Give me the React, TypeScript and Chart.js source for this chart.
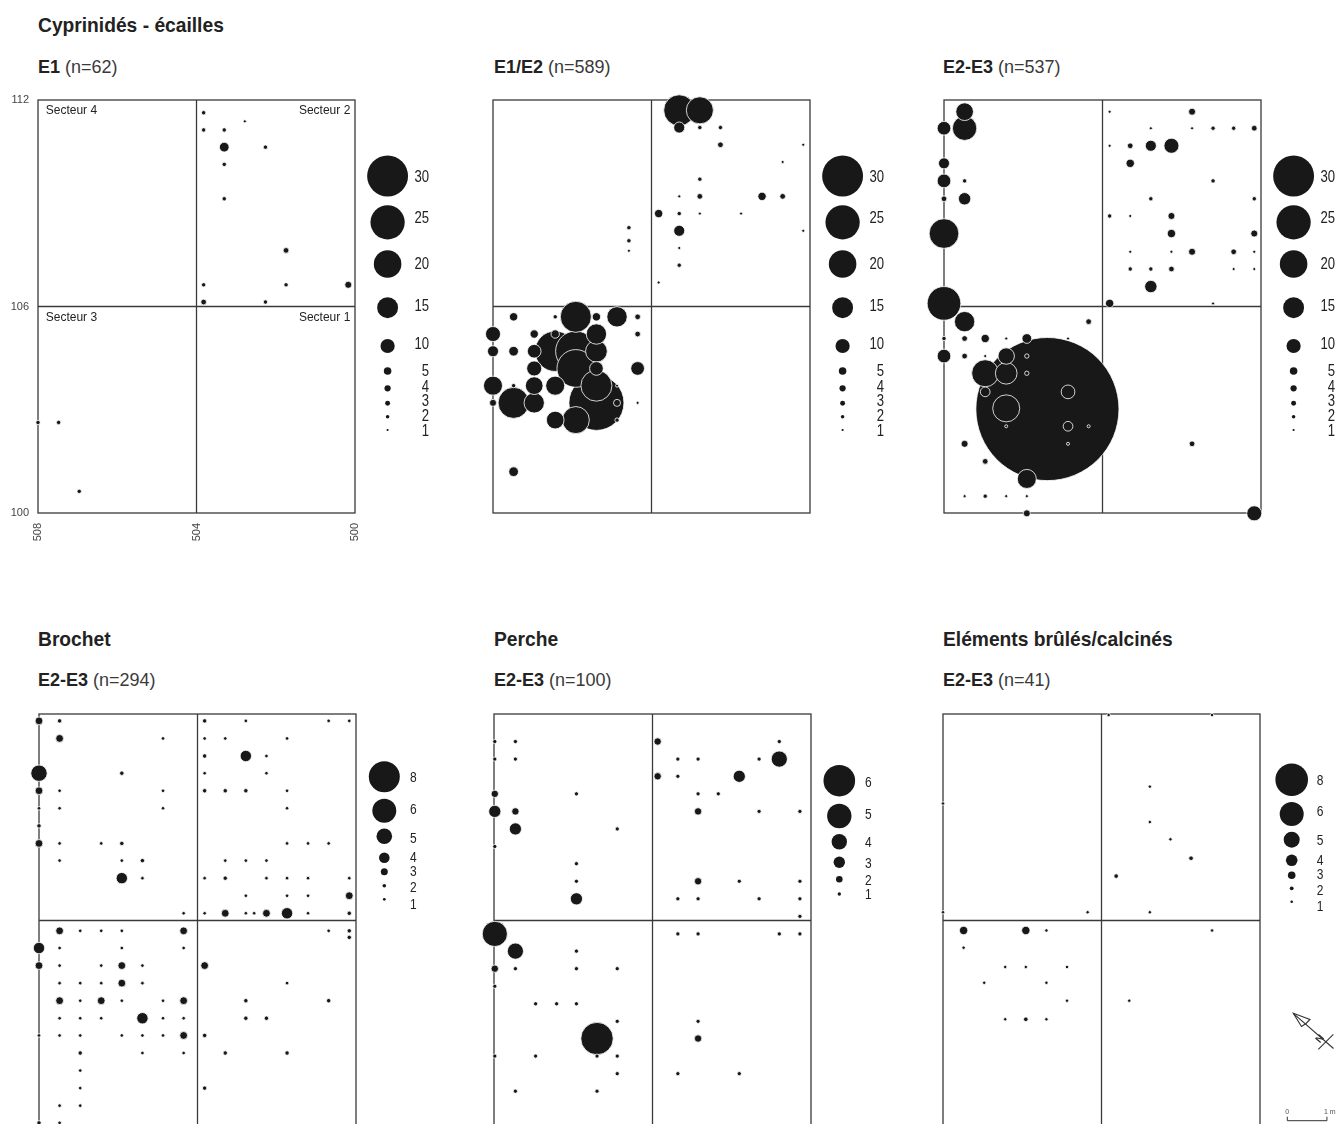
import React, { useEffect, useRef } from "react";
import { Chart, registerables } from "chart.js";

Chart.register(...registerables);

// [x (m), y (m), count]
type Pt = [number, number, number];

// Excavation grid (metres) and quadrant dividers
const X_MIN = 500;
const X_MAX = 508;
const Y_MIN = 100;
const Y_MAX = 112;
const X_TICKS = [508, 504, 500];
const Y_TICKS = [112, 106, 100];
const DIVIDER_X = 504;
const DIVIDER_Y = 106;
const SECTOR_NAMES = ["Secteur 4", "Secteur 2", "Secteur 3", "Secteur 1"];

// Size-legend classes
const CYP_LEGEND = [30, 25, 20, 15, 10, 5, 4, 3, 2, 1];
const BROCHET_LEGEND = [8, 6, 5, 4, 3, 2, 1];
const PERCHE_LEGEND = [6, 5, 4, 3, 2, 1];
const ELEMENTS_LEGEND = [8, 6, 5, 4, 3, 2, 1];

// Cyprinidés - écailles, E1
const CYP_E1: Pt[] = [
  [503.82, 111.63, 2], [502.78, 111.38, 1], [503.82, 111.13, 2], [503.3, 111.13, 2],
  [503.3, 110.63, 6], [502.26, 110.63, 2], [503.3, 110.13, 2], [503.3, 109.13, 2],
  [501.74, 107.63, 3], [503.82, 106.63, 2], [501.74, 106.63, 2], [500.17, 106.63, 4],
  [503.82, 106.13, 3], [502.26, 106.13, 2], [508.0, 102.63, 2], [507.48, 102.63, 2],
  [506.96, 100.63, 2],
];

// Cyprinidés - écailles, E1/E2
const CYP_E1E2: Pt[] = [
  [503.3, 111.7, 22], [502.78, 111.7, 19], [503.3, 111.2, 7], [502.78, 111.2, 2],
  [502.26, 111.2, 2], [502.26, 110.7, 3], [500.17, 110.7, 1], [500.69, 110.2, 1],
  [502.78, 109.7, 2], [503.3, 109.2, 1], [502.78, 109.2, 3], [501.21, 109.2, 5],
  [500.69, 109.2, 3], [503.82, 108.7, 5], [503.3, 108.7, 2], [502.78, 108.7, 1],
  [501.74, 108.7, 1], [503.3, 108.2, 7], [500.17, 108.2, 1], [503.3, 107.7, 1],
  [503.3, 107.2, 2], [503.82, 106.7, 1],
  [504.57, 108.29, 2], [504.57, 107.91, 2], [504.57, 107.62, 1],
  [507.48, 105.7, 5], [506.43, 105.7, 2], [505.91, 105.7, 22], [505.39, 105.7, 5],
  [504.87, 105.7, 14], [504.35, 105.7, 3],
  [508.0, 105.2, 10], [506.96, 105.2, 5], [506.43, 105.2, 5], [505.39, 105.2, 14], [504.35, 105.2, 3],
  [508.0, 104.7, 7], [507.48, 104.7, 6], [506.96, 104.7, 9], [506.43, 104.7, 29],
  [505.91, 104.7, 29], [505.39, 104.7, 15],
  [506.96, 104.2, 10], [505.91, 104.2, 27], [505.39, 104.2, 9], [504.35, 104.2, 9],
  [508.0, 103.7, 13], [507.48, 103.7, 2], [506.96, 103.7, 12], [506.43, 103.7, 13],
  [505.39, 103.7, 22], [504.87, 103.7, 1],
  [508.0, 103.2, 4], [507.48, 103.2, 22], [506.96, 103.2, 14], [505.39, 103.2, 40],
  [504.87, 103.2, 4], [504.35, 103.2, 1],
  [506.43, 102.7, 12], [505.91, 102.7, 19], [504.87, 102.7, 2],
  [507.48, 101.2, 6],
];

// Cyprinidés - écailles, E2-E3
const CYP_E2E3: Pt[] = [
  [507.48, 111.66, 12], [508.0, 111.18, 9], [507.48, 111.18, 17], [508.0, 110.16, 7],
  [508.0, 109.65, 9], [507.48, 109.65, 2], [508.0, 109.13, 3], [507.48, 109.13, 8],
  [508.0, 108.12, 21], [508.0, 106.09, 24], [507.48, 105.56, 14], [504.35, 105.56, 3],
  [503.82, 111.66, 1], [501.74, 111.66, 4], [502.78, 111.18, 1], [501.74, 111.18, 1],
  [501.21, 111.18, 2], [500.69, 111.18, 2], [500.17, 111.18, 3],
  [503.82, 110.67, 1], [503.3, 110.67, 3], [502.78, 110.67, 7], [502.26, 110.67, 10],
  [503.3, 110.16, 5], [501.21, 109.65, 2], [502.78, 109.13, 2], [500.17, 109.13, 2],
  [503.82, 108.63, 2], [503.3, 108.63, 1], [502.26, 108.63, 4],
  [502.26, 108.12, 5], [500.17, 108.12, 4],
  [503.3, 107.59, 1], [502.26, 107.59, 1], [501.74, 107.59, 4], [500.69, 107.59, 3], [500.17, 107.59, 1],
  [503.3, 107.09, 2], [502.78, 107.09, 2], [502.26, 107.09, 3], [500.69, 107.09, 1], [500.17, 107.09, 1],
  [502.78, 106.58, 8], [503.82, 106.09, 5], [501.21, 106.09, 1],
  [505.39, 103.02, 106],
  [508.0, 105.07, 2], [507.48, 105.07, 3], [506.96, 105.07, 5], [506.43, 105.07, 1],
  [505.91, 105.07, 6], [504.87, 105.07, 1],
  [508.0, 104.56, 9], [507.48, 104.56, 3], [506.96, 104.56, 1], [506.43, 104.56, 11], [505.91, 104.56, 2],
  [506.96, 104.06, 19], [506.43, 104.06, 15], [505.91, 104.06, 2],
  [506.96, 103.52, 6], [504.87, 103.52, 9], [506.43, 103.04, 19],
  [506.43, 102.52, 1], [504.87, 102.52, 6], [504.35, 102.52, 1],
  [507.48, 102.01, 4], [504.87, 102.01, 1], [506.96, 101.5, 3], [505.91, 100.99, 13],
  [507.48, 100.49, 1], [506.96, 100.49, 2], [506.43, 100.49, 1], [505.91, 100.49, 1],
  [505.91, 99.99, 4], [501.74, 102.01, 3], [500.17, 99.99, 10],
];

// Brochet, E2-E3
const BROCHET_E2E3: Pt[] = [
  [508.0, 111.8, 3], [507.48, 111.8, 2], [507.48, 111.29, 3], [504.87, 111.29, 1],
  [508.0, 110.28, 5], [505.91, 110.28, 2], [508.0, 109.77, 3], [507.48, 109.77, 1],
  [504.87, 109.77, 1], [508.0, 109.26, 1], [507.48, 109.26, 1], [504.87, 109.26, 1],
  [508.0, 108.75, 2], [508.0, 108.24, 3], [507.48, 108.24, 1], [506.43, 108.24, 1],
  [505.91, 108.24, 2], [507.48, 107.74, 1], [505.91, 107.74, 1], [505.39, 107.74, 2],
  [505.91, 107.23, 4], [505.39, 107.23, 1], [504.35, 106.21, 1],
  [503.82, 111.8, 2], [502.78, 111.8, 1], [500.69, 111.8, 1], [500.17, 111.8, 1],
  [503.82, 111.29, 1], [503.3, 111.29, 1], [501.74, 111.29, 1],
  [503.82, 110.78, 2], [502.78, 110.78, 4], [502.26, 110.78, 1],
  [503.82, 110.28, 1], [502.26, 110.28, 1],
  [503.82, 109.77, 2], [503.3, 109.77, 2], [502.78, 109.77, 2], [501.74, 109.77, 1],
  [501.74, 109.26, 1], [501.74, 108.24, 1], [501.21, 108.24, 1], [500.69, 108.24, 1],
  [503.3, 107.74, 1], [502.78, 107.74, 1], [502.26, 107.74, 1],
  [503.82, 107.23, 1], [503.3, 107.23, 2], [502.26, 107.23, 1], [501.74, 107.23, 1],
  [501.21, 107.23, 1], [500.17, 107.23, 1],
  [502.78, 106.72, 1], [501.74, 106.72, 1], [501.21, 106.72, 1], [500.17, 106.72, 3],
  [503.82, 106.21, 1], [503.3, 106.21, 3], [502.78, 106.21, 1], [502.57, 106.21, 1],
  [502.26, 106.21, 3], [501.74, 106.21, 4], [501.21, 106.21, 1], [500.17, 106.21, 2],
  [507.48, 105.7, 3], [506.96, 105.7, 1], [506.43, 105.7, 1], [505.91, 105.7, 1], [504.35, 105.7, 3],
  [508.0, 105.2, 4], [507.48, 105.2, 1], [505.91, 105.2, 1], [504.35, 105.2, 1],
  [508.0, 104.69, 3], [507.48, 104.69, 1], [506.43, 104.69, 1], [505.91, 104.69, 3], [505.39, 104.69, 1],
  [507.48, 104.18, 1], [506.96, 104.18, 1], [506.43, 104.18, 1], [505.91, 104.18, 3], [505.39, 104.18, 1],
  [507.48, 103.67, 3], [506.96, 103.67, 1], [506.43, 103.67, 3], [505.91, 103.67, 1],
  [504.87, 103.67, 1], [504.35, 103.67, 3],
  [507.48, 103.16, 1], [506.96, 103.16, 1], [506.43, 103.16, 1], [505.39, 103.16, 4],
  [504.87, 103.16, 1], [504.35, 103.16, 1],
  [508.0, 102.66, 1], [507.48, 102.66, 1], [506.96, 102.66, 1], [505.91, 102.66, 1],
  [505.39, 102.66, 1], [504.87, 102.66, 1], [504.35, 102.66, 3],
  [506.96, 102.15, 2], [505.39, 102.15, 1], [504.35, 102.15, 1],
  [506.96, 101.64, 1], [506.96, 101.13, 1], [507.48, 100.62, 1], [506.96, 100.62, 1],
  [508.0, 100.12, 2], [507.48, 100.12, 1],
  [500.69, 105.7, 1], [500.17, 105.7, 2], [500.17, 105.51, 2], [503.82, 104.69, 3],
  [501.74, 104.18, 1], [502.78, 103.67, 2], [500.69, 103.67, 2], [502.78, 103.16, 2],
  [502.26, 103.16, 2], [503.82, 102.66, 2], [503.3, 102.15, 2], [501.74, 102.15, 2],
  [503.82, 101.13, 2],
];

// Perche, E2-E3
const PERCHE_E2E3: Pt[] = [
  [507.98, 111.2, 1], [507.46, 111.2, 1], [507.98, 110.69, 1], [507.46, 110.69, 1],
  [507.98, 109.68, 2], [507.98, 109.17, 3], [507.46, 109.17, 2], [507.46, 108.66, 3],
  [507.98, 108.15, 1], [505.92, 109.68, 1], [504.89, 108.66, 1], [505.92, 107.65, 1],
  [505.92, 107.14, 1], [505.92, 106.63, 3],
  [503.87, 111.2, 2], [500.8, 111.2, 1], [503.36, 110.69, 1], [502.85, 110.69, 1],
  [501.31, 110.69, 1], [500.8, 110.69, 4], [503.87, 110.19, 2], [503.36, 110.19, 1],
  [501.81, 110.19, 3], [502.85, 109.68, 1], [502.34, 109.68, 1], [502.85, 109.17, 2],
  [501.31, 109.17, 1], [500.28, 109.17, 1], [502.85, 107.14, 2], [501.81, 107.14, 1],
  [500.28, 107.14, 1], [503.36, 106.63, 1], [502.85, 106.63, 1], [501.31, 106.63, 1],
  [500.28, 106.63, 1], [500.28, 106.12, 1],
  [507.98, 105.61, 5], [507.46, 105.11, 4], [507.98, 104.6, 2], [507.46, 104.6, 1],
  [505.92, 105.11, 1], [505.92, 104.6, 1], [504.89, 104.6, 1], [507.98, 104.09, 1],
  [506.95, 103.58, 1], [506.42, 103.58, 1], [505.92, 103.58, 1], [504.89, 103.07, 1],
  [505.4, 102.57, 6], [507.98, 102.06, 1], [506.95, 102.06, 1], [505.4, 102.06, 1],
  [504.89, 102.06, 1], [504.89, 101.55, 1], [507.46, 101.04, 1], [505.4, 101.04, 1],
  [503.36, 105.61, 1], [502.85, 105.61, 1], [500.8, 105.61, 1], [500.28, 105.61, 1],
  [502.85, 103.07, 1], [502.85, 102.57, 2], [503.36, 101.55, 1], [501.81, 101.55, 1],
];

// Eléments brûlés/calcinés, E2-E3
const ELEMENTS_E2E3: Pt[] = [
  [503.82, 111.97, 1], [501.21, 111.97, 1], [508.0, 109.4, 1], [502.78, 109.89, 1],
  [502.78, 108.86, 1], [502.26, 108.36, 1], [501.74, 107.81, 2], [503.63, 107.29, 2],
  [508.0, 106.24, 1], [504.35, 106.24, 1], [502.78, 106.24, 1],
  [507.48, 105.71, 3], [505.91, 105.71, 3], [505.39, 105.71, 1], [501.21, 105.71, 1],
  [507.48, 105.21, 1], [506.43, 104.65, 1], [505.91, 104.65, 1], [504.87, 104.65, 1],
  [506.96, 104.19, 1], [505.39, 104.19, 1], [503.3, 103.67, 1], [504.87, 103.67, 1],
  [506.43, 103.13, 1], [505.91, 103.13, 2], [505.39, 103.13, 1],
];

// ---- styling ----
const FONT = '"Liberation Sans", Arial, Helvetica, sans-serif';
const INK = "#181818";
const FRAME = "#3a3a3a";
const TEXT = "#222222";
const PAD = { left: 40, top: 30, right: 80, bottom: 40 };
const PLOT_W = 317;
const PLOT_H = 413;
const CANVAS_W = PAD.left + PLOT_W + PAD.right;
const CANVAS_H = PAD.top + PLOT_H + PAD.bottom;
const HALO = 0.8; // white outline around each disc

// circle radius (px) per count
const cyprinidSize = (n: number) => 0.667 * n + 0.45;
const classSize = (table: Record<number, number>) => (n: number) => table[n] ?? 1;
const brochetSize = classSize({ 1: 1.4, 2: 1.8, 3: 3.5, 4: 5.3, 5: 7.8, 6: 12, 8: 15.5 });
const percheSize = classSize({ 1: 1.7, 2: 3.3, 3: 5.7, 4: 7.7, 5: 12.2, 6: 15.8 });
const elementsSize = classSize({ 1: 1.3, 2: 1.9, 3: 3.8, 4: 5.8, 5: 8, 6: 12, 8: 16.3 });

type LegendLayout = {
  circleDx: number;
  labelDx: number;
  align: CanvasTextAlign;
  circleDy: number[];
  labelDy: number[];
  font: number;
  sx: number;
};

const TOP_LEGEND: LegendLayout = {
  circleDx: 32.6, labelDx: 74, align: "right",
  circleDy: [76, 122.3, 164, 207.7, 246, 271, 288.3, 303.3, 316.7, 330],
  labelDy: [76.7, 117.7, 163.3, 205.7, 243.3, 270, 286, 300.7, 315, 330],
  font: 16, sx: 0.82,
};
const BROCHET_LEGEND_LAYOUT: LegendLayout = {
  circleDx: 28.3, labelDx: 54, align: "left",
  circleDy: [62.7, 96.7, 122.3, 143.7, 157.7, 171.7, 185.3],
  labelDy: [62.7, 94.3, 123.3, 142.7, 156.3, 172.7, 189.3],
  font: 15, sx: 0.8,
};
const PERCHE_LEGEND_LAYOUT: LegendLayout = {
  circleDx: 28.3, labelDx: 54, align: "left",
  circleDy: [66.7, 102, 127.7, 148.3, 165.3, 180],
  labelDy: [67.7, 99.3, 127.7, 148.3, 166, 180],
  font: 15, sx: 0.8,
};
const ELEMENTS_LEGEND_LAYOUT: LegendLayout = {
  circleDx: 31.7, labelDx: 56.7, align: "left",
  circleDy: [65.7, 100, 125.7, 146.3, 161.3, 174.3, 187.7],
  labelDy: [66, 96.7, 126, 146, 159.3, 176, 191.7],
  font: 15, sx: 0.8,
};

type PanelSpec = {
  id: string;
  left: number;
  top: number;
  points: Pt[];
  size: (n: number) => number;
  legend: number[];
  legendLayout: LegendLayout;
  axes?: boolean;
  compass?: boolean;
};

function drawText(
  ctx: CanvasRenderingContext2D,
  s: string,
  x: number,
  y: number,
  o: { size: number; weight?: number; sx?: number; color?: string; align?: CanvasTextAlign; baseline?: CanvasTextBaseline; rotate?: number }
) {
  ctx.save();
  ctx.translate(x, y);
  if (o.rotate) ctx.rotate(o.rotate);
  ctx.scale(o.sx ?? 1, 1);
  ctx.font = `${o.weight ?? 400} ${o.size}px ${FONT}`;
  ctx.fillStyle = o.color ?? TEXT;
  ctx.textAlign = o.align ?? "left";
  ctx.textBaseline = o.baseline ?? "alphabetic";
  ctx.fillText(s, 0, 0);
  ctx.restore();
}

function decorPlugin(spec: PanelSpec) {
  return {
    id: "panelDecor",
    beforeDatasetsDraw(chart: any) {
      const { ctx, chartArea: a, scales } = chart;
      const xs = scales.x;
      const ys = scales.y;
      ctx.save();
      ctx.strokeStyle = FRAME;
      ctx.lineWidth = 1.3;
      ctx.strokeRect(a.left, a.top, a.right - a.left, a.bottom - a.top);
      const mx = xs.getPixelForValue(DIVIDER_X);
      const my = ys.getPixelForValue(DIVIDER_Y);
      ctx.beginPath();
      ctx.moveTo(mx, a.top);
      ctx.lineTo(mx, a.bottom);
      ctx.moveTo(a.left, my);
      ctx.lineTo(a.right, my);
      ctx.stroke();
      ctx.restore();

      if (spec.axes) {
        Y_TICKS.forEach((v) => {
          drawText(ctx, String(v), a.left - 9, ys.getPixelForValue(v), {
            size: 11, color: "#444", align: "right", baseline: "middle",
          });
        });
        X_TICKS.forEach((v) => {
          drawText(ctx, String(v), xs.getPixelForValue(v), a.bottom + 10, {
            size: 11, color: "#444", align: "right", baseline: "middle", rotate: -Math.PI / 2,
          });
        });
        const [s4, s2, s3, s1] = SECTOR_NAMES;
        drawText(ctx, s4, a.left + 7.7, a.top + 14.3, { size: 12 });
        drawText(ctx, s2, a.right - 4.7, a.top + 14.3, { size: 12, align: "right" });
        drawText(ctx, s3, a.left + 7.7, my + 14.4, { size: 12 });
        drawText(ctx, s1, a.right - 4.7, my + 14.4, { size: 12, align: "right" });
      }
    },
    afterDatasetsDraw(chart: any) {
      const { ctx, chartArea: a, scales } = chart;
      const L = spec.legendLayout;
      ctx.save();
      spec.legend.forEach((v, i) => {
        ctx.beginPath();
        ctx.arc(a.right + L.circleDx, a.top + L.circleDy[i], spec.size(v), 0, Math.PI * 2);
        ctx.fillStyle = INK;
        ctx.fill();
        drawText(ctx, String(v), a.right + L.labelDx, a.top + L.labelDy[i] + L.font * 0.358, {
          size: L.font, sx: L.sx, align: L.align,
        });
      });
      ctx.restore();

      if (spec.compass) {
        const R = a.right;
        const T = a.top;
        ctx.save();
        ctx.strokeStyle = "#333";
        ctx.lineWidth = 1.1;
        // north arrow
        ctx.beginPath();
        ctx.moveTo(R + 33.3, T + 299.3);
        ctx.lineTo(R + 73.5, T + 334.5);
        ctx.stroke();
        ctx.beginPath();
        ctx.moveTo(R + 33.3, T + 299.3);
        ctx.lineTo(R + 50, T + 305.5);
        ctx.lineTo(R + 46, T + 309.5);
        ctx.lineTo(R + 41.5, T + 312.5);
        ctx.closePath();
        ctx.stroke();
        ctx.beginPath();
        ctx.moveTo(R + 58.3, T + 335.3);
        ctx.lineTo(R + 73.3, T + 320.3);
        ctx.stroke();
        drawText(ctx, "N", R + 60, T + 325, { size: 10, weight: 700, color: "#333", align: "center", baseline: "middle", rotate: -0.85 });
        // 1 m scale bar
        const x0 = R + 27.3;
        const len = Math.abs(scales.x.getPixelForValue(X_MIN + 1) - scales.x.getPixelForValue(X_MIN));
        const yb = T + 406.7;
        ctx.lineWidth = 1;
        ctx.beginPath();
        ctx.moveTo(x0, yb - 4);
        ctx.lineTo(x0, yb);
        ctx.lineTo(x0 + len, yb);
        ctx.lineTo(x0 + len, yb - 4);
        ctx.stroke();
        drawText(ctx, "0", x0, T + 400, { size: 7, color: "#555", align: "center" });
        drawText(ctx, "1 m", x0 + len - 3, T + 400, { size: 7, color: "#555" });
        ctx.restore();
      }
    },
  };
}

function Panel({ spec }: { spec: PanelSpec }) {
  const ref = useRef<HTMLCanvasElement>(null);
  useEffect(() => {
    if (!ref.current) return;
    // larger discs first so the smaller ones stay visible on top
    const sorted = [...spec.points].sort((p, q) => q[2] - p[2]);
    const chart = new Chart(ref.current, {
      type: "bubble",
      data: {
        datasets: [
          {
            label: spec.id,
            data: sorted.map(([x, y, n]) => ({ x, y, r: spec.size(n) + HALO / 2 })),
            backgroundColor: INK,
            borderColor: "#ffffff",
            borderWidth: HALO,
            hoverBorderWidth: HALO,
            clip: false as any,
          },
        ],
      },
      options: {
        animation: false,
        responsive: false,
        events: [],
        layout: { padding: PAD, autoPadding: false } as any,
        scales: {
          x: { type: "linear", min: X_MIN, max: X_MAX, reverse: true, display: false },
          y: { type: "linear", min: Y_MIN, max: Y_MAX, display: false },
        },
        plugins: {
          legend: { display: false },
          tooltip: { enabled: false },
          title: { display: false },
        },
      },
      plugins: [decorPlugin(spec) as any],
    });
    return () => chart.destroy();
  }, [spec]);
  return (
    <canvas
      ref={ref}
      width={CANVAS_W}
      height={CANVAS_H}
      style={{
        position: "absolute",
        left: spec.left - PAD.left,
        top: spec.top - PAD.top,
        width: CANVAS_W,
        height: CANVAS_H,
      }}
    />
  );
}

const PANELS: PanelSpec[] = [
  { id: "cyp-e1", left: 38, top: 100, points: CYP_E1, size: cyprinidSize, legend: CYP_LEGEND, legendLayout: TOP_LEGEND, axes: true },
  { id: "cyp-e1e2", left: 493, top: 100, points: CYP_E1E2, size: cyprinidSize, legend: CYP_LEGEND, legendLayout: TOP_LEGEND },
  { id: "cyp-e2e3", left: 944, top: 100, points: CYP_E2E3, size: cyprinidSize, legend: CYP_LEGEND, legendLayout: TOP_LEGEND },
  { id: "brochet", left: 39, top: 714, points: BROCHET_E2E3, size: brochetSize, legend: BROCHET_LEGEND, legendLayout: BROCHET_LEGEND_LAYOUT },
  { id: "perche", left: 494, top: 714, points: PERCHE_E2E3, size: percheSize, legend: PERCHE_LEGEND, legendLayout: PERCHE_LEGEND_LAYOUT },
  { id: "elements", left: 943, top: 714, points: ELEMENTS_E2E3, size: elementsSize, legend: ELEMENTS_LEGEND, legendLayout: ELEMENTS_LEGEND_LAYOUT, compass: true },
];

const TITLES = [
  { x: 38, y: 14, text: "Cyprinidés - écailles" },
  { x: 38, y: 627.6, text: "Brochet" },
  { x: 494, y: 627.6, text: "Perche" },
  { x: 943, y: 627.6, text: "Eléments brûlés/calcinés" },
];

const SUBTITLES = [
  { x: 38, y: 57.5, phase: "E1", n: 62 },
  { x: 494, y: 57.5, phase: "E1/E2", n: 589 },
  { x: 943, y: 57.5, phase: "E2-E3", n: 537 },
  { x: 38, y: 671.2, phase: "E2-E3", n: 294 },
  { x: 494, y: 671.2, phase: "E2-E3", n: 100 },
  { x: 943, y: 671.2, phase: "E2-E3", n: 41 },
];

export default function App() {
  return (
    <div
      style={{
        position: "absolute",
        left: 0,
        top: 0,
        width: 1336,
        height: 1124,
        overflow: "hidden",
        background: "#ffffff",
        fontFamily: FONT,
        color: TEXT,
      }}
    >
      {TITLES.map((t) => (
        <div
          key={t.text}
          style={{
            position: "absolute",
            left: t.x,
            top: t.y,
            fontSize: 21,
            lineHeight: "21px",
            fontWeight: 700,
            whiteSpace: "nowrap",
            transform: "scaleX(0.915)",
            transformOrigin: "left top",
          }}
        >
          {t.text}
        </div>
      ))}
      {SUBTITLES.map((s, i) => (
        <div
          key={i}
          style={{
            position: "absolute",
            left: s.x,
            top: s.y,
            fontSize: 18,
            lineHeight: "18px",
            whiteSpace: "nowrap",
          }}
        >
          <span style={{ fontWeight: 700 }}>{s.phase}</span>
          <span style={{ fontWeight: 400, color: "#3a3a3a" }}>{` (n=${s.n})`}</span>
        </div>
      ))}
      {PANELS.map((p) => (
        <Panel key={p.id} spec={p} />
      ))}
    </div>
  );
}
